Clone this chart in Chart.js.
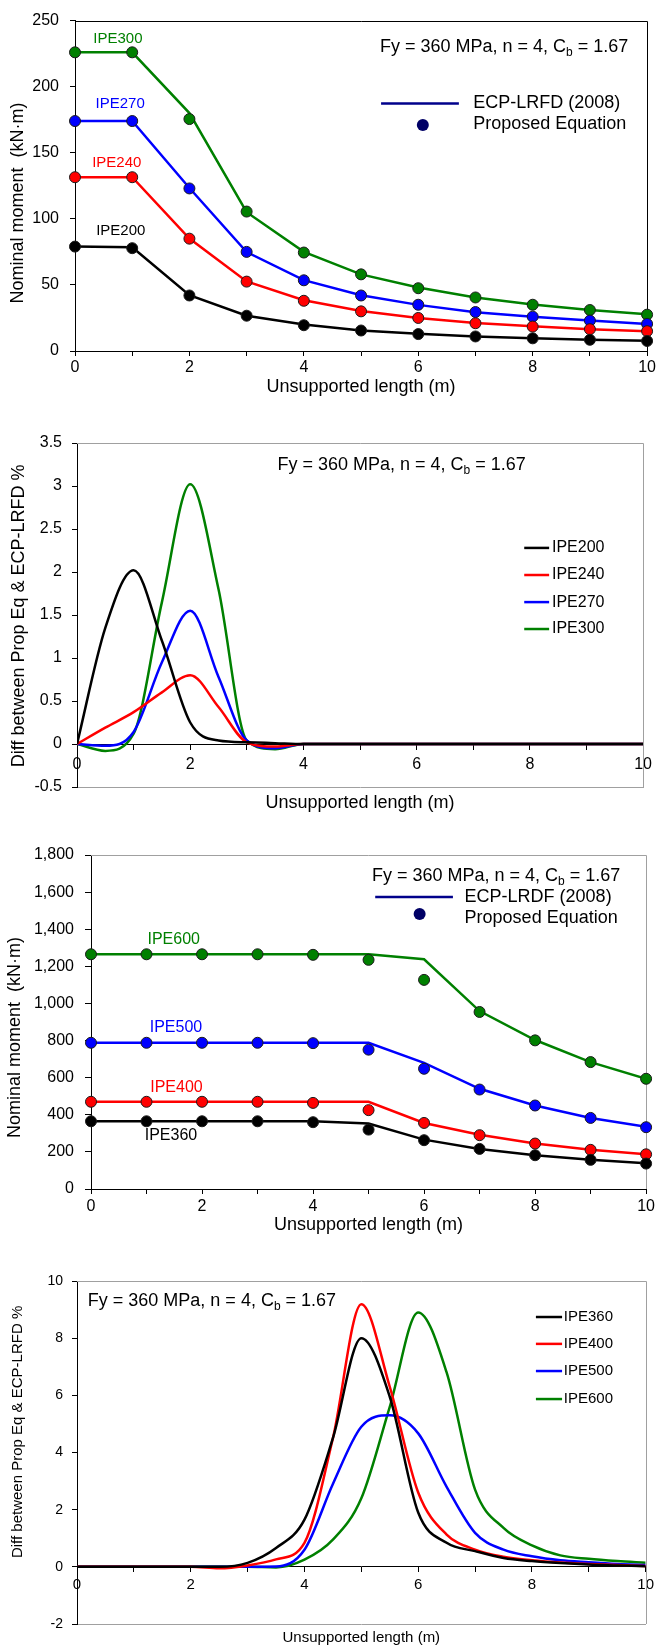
<!DOCTYPE html>
<html>
<head>
<meta charset="utf-8">
<title>Nominal moment vs unsupported length</title>
<script src="https://cdn.jsdelivr.net/npm/chart.js@4.4.1/dist/chart.umd.min.js"></script>
<style>
  body { margin: 0; background: #fff; width: 658px; height: 1647px; position: relative; overflow: hidden; }
  canvas { position: absolute; left: 0; }
</style>
</head>
<body>
<canvas id="moment-small" width="658" height="400" style="top:0"></canvas>
<canvas id="diff-small" width="658" height="420" style="top:400px"></canvas>
<canvas id="moment-large" width="658" height="420" style="top:820px"></canvas>
<canvas id="diff-large" width="658" height="407" style="top:1240px"></canvas>
<script>
// ---- data ----
const lengths = [0, 1, 2, 3, 4, 5, 6, 7, 8, 9, 10]

// IPE200..IPE300: ECP-LRFD (2008) line and proposed equation dots (kN.m)
const ipe200Line = [79, 78.5, 42.2, 26.7, 20, 15.5, 13, 11, 9.7, 8.5, 7.7]
const ipe200Dots = [79, 77.8, 42, 26.7, 19.5, 15.5, 12.8, 11, 9.6, 8.5, 7.6]
const ipe240Line = [131.5, 131.5, 85.1, 52.6, 38.4, 30.2, 24.9, 21.2, 18.7, 16.5, 15]
const ipe240Dots = [131.5, 131.5, 85, 52.5, 38, 30, 25, 21, 18.5, 16.5, 15]
const ipe270Line = [174, 174, 123.3, 74.9, 53.6, 42.2, 34.9, 29.4, 25.9, 23, 20.5]
const ipe270Dots = [174, 174, 123, 75, 53.5, 42, 35, 29.5, 26, 23, 20.5]
const ipe300Line = [226, 226, 180, 105, 75, 58, 48, 40.5, 35.2, 31, 27.8]
const ipe300Dots = [226, 226, 175.5, 105.5, 74.5, 58, 47.5, 40.5, 35, 31, 27.5]

// difference between proposed eq and ECP-LRFD (%), small sections
const diffLengthsSmall = [0, 0.5, 1, 1.5, 2, 2.5, 3, 3.5, 4, 5, 6, 7, 8, 9, 10]
const diff200 = [0, 1.35, 2.02, 1.2, 0.25, 0.04, 0.02, 0.01, 0, 0, 0, 0, 0, 0, 0]
const diff240 = [0, 0.19, 0.37, 0.6, 0.8, 0.43, 0.02, -0.03, 0, 0, 0, 0, 0, 0, 0]
const diff270 = [0, -0.02, 0.14, 0.95, 1.55, 0.78, 0.04, -0.05, 0, 0, 0, 0, 0, 0, 0]
const diff300 = [0, -0.08, 0.12, 1.65, 3.02, 1.8, 0.04, -0.06, 0, 0, 0, 0, 0, 0, 0]

// IPE360..IPE600
const ipe360Line = [365, 365, 365, 365, 365, 353, 266, 216, 182, 157, 139]
const ipe360Dots = [365, 365, 365, 365, 360, 320, 263, 216, 182, 157, 137]
const ipe400Line = [470, 470, 470, 470, 470, 470, 356, 292, 245, 212, 187]
const ipe400Dots = [470, 470, 470, 470, 464, 425, 356, 290, 245, 211, 187]
const ipe500Line = [788, 788, 788, 788, 788, 788, 680, 540, 450, 383, 335]
const ipe500Dots = [788, 788, 788, 788, 786, 751, 648, 536, 450, 383, 333]
const ipe600Line = [1265, 1265, 1265, 1265, 1265, 1265, 1238, 959, 803, 684, 594]
const ipe600Dots = [1265, 1265, 1265, 1265, 1262, 1235, 1127, 954, 801, 684, 594]

const diffLengthsLarge = [0, 1, 2, 2.5, 3, 3.5, 4, 4.5, 5, 5.5, 6, 6.5, 7, 7.5, 8, 8.5, 9, 9.5, 10]
const diff360 = [0, 0, 0, 0, 0.14, 0.66, 1.65, 4.5, 8.0, 5.95, 1.9, 0.84, 0.55, 0.31, 0.2, 0.13, 0.08, 0.05, 0.02]
const diff400 = [0, 0, 0, -0.05, 0.05, 0.26, 0.84, 4.5, 9.19, 6.3, 2.6, 1.13, 0.6, 0.35, 0.23, 0.15, 0.1, 0.06, 0.03]
const diff500 = [0, 0, 0, 0, 0, 0.01, 0.6, 2.9, 4.9, 5.3, 4.67, 2.8, 1.19, 0.6, 0.37, 0.23, 0.16, 0.1, 0.06]
const diff600 = [0, 0, 0, 0, 0, -0.02, 0.25, 0.95, 2.4, 5.6, 8.9, 6.8, 2.7, 1.36, 0.75, 0.4, 0.28, 0.2, 0.14]

const BLACK = '#000000'
const RED = '#ff0000'
const BLUE = '#0000ff'
const GREEN = '#008000'
const NAVY = '#00008b'
const FONT = "'Liberation Sans', Arial, Helvetica, sans-serif"

Chart.defaults.font.family = FONT
Chart.defaults.color = '#000'
Chart.defaults.animation = false

function pts(xs, ys) {
  return xs.map((x, i) => ({ x, y: ys[i] }))
}

// straight ECP-LRFD segments
function lineSet(label, xs, ys, color) {
  return { label, data: pts(xs, ys), borderColor: color, borderWidth: 2.5, pointRadius: 0, tension: 0, order: 1 }
}

// smoothed difference curves
function curveSet(label, xs, ys, color) {
  return {
    label, data: pts(xs, ys), borderColor: color, borderWidth: 2.5, pointRadius: 0,
    cubicInterpolationMode: 'monotone', order: 1
  }
}

function dotSet(label, xs, ys, color) {
  return {
    label, data: pts(xs, ys), showLine: false, pointRadius: 5.5,
    pointBackgroundColor: color, pointBorderColor: '#1a1a1a', pointBorderWidth: 1,
    clip: false, order: 0
  }
}

// top / right border of the plot box
const framePlugin = {
  id: 'frame',
  beforeDatasetsDraw(chart, args, opts) {
    const { ctx, chartArea: a } = chart
    ctx.save()
    ctx.strokeStyle = opts.color || '#000'
    ctx.lineWidth = 1
    ctx.beginPath()
    ctx.moveTo(a.left, Math.round(a.top) + 0.5)
    ctx.lineTo(Math.round(a.right) + 0.5, Math.round(a.top) + 0.5)
    ctx.lineTo(Math.round(a.right) + 0.5, a.bottom)
    ctx.stroke()
    ctx.restore()
  }
}

function drawFy(ctx, x, y, size) {
  const head = 'Fy = 360 MPa, n = 4, C'
  ctx.textAlign = 'left'
  ctx.textBaseline = 'middle'
  ctx.font = size + 'px ' + FONT
  ctx.fillText(head, x, y)
  let w = ctx.measureText(head).width
  ctx.font = Math.round(size * 0.65) + 'px ' + FONT
  ctx.fillText('b', x + w, y + size * 0.3)
  w += ctx.measureText('b').width
  ctx.font = size + 'px ' + FONT
  ctx.fillText(' = 1.67', x + w, y)
}

// labels, key samples, side titles – anchored on the data scales
const notesPlugin = {
  id: 'notes',
  afterDatasetsDraw(chart, args, opts) {
    const { ctx, scales } = chart
    const sx = scales.x
    const sy = scales.y
    ctx.save()
    for (const n of opts.items || []) {
      const px = n.px !== undefined ? n.px : sx.getPixelForValue(n.x)
      const py = sy.getPixelForValue(n.y)
      ctx.fillStyle = n.color || '#000'
      ctx.strokeStyle = n.color || '#000'
      if (n.kind === 'fy') {
        drawFy(ctx, px, py, n.size)
      } else if (n.kind === 'key') {
        ctx.lineWidth = n.width || 2.5
        ctx.beginPath()
        ctx.moveTo(px, py)
        ctx.lineTo(sx.getPixelForValue(n.x2), py)
        ctx.stroke()
      } else if (n.kind === 'dot') {
        ctx.beginPath()
        ctx.arc(px, py, n.r, 0, Math.PI * 2)
        ctx.fill()
      } else if (n.kind === 'vtext') {
        ctx.translate(px, py)
        ctx.rotate(-Math.PI / 2)
        ctx.font = n.size + 'px ' + FONT
        ctx.textAlign = 'center'
        ctx.textBaseline = 'middle'
        ctx.fillText(n.text, 0, 0)
        ctx.setTransform(1, 0, 0, 1, 0, 0)
      } else {
        ctx.font = n.size + 'px ' + FONT
        ctx.textAlign = n.align || 'left'
        ctx.textBaseline = 'middle'
        ctx.fillText(n.text, px, py)
      }
    }
    ctx.restore()
  }
}

Chart.register(framePlugin, notesPlugin)

const evenOnly = v => (v % 2 === 0 ? v : '')
const plain = v => String(v)

// ---------------- chart 1 ----------------
new Chart(document.getElementById('moment-small'), {
  type: 'line',
  data: {
    datasets: [
      lineSet('IPE200', lengths, ipe200Line, BLACK),
      lineSet('IPE240', lengths, ipe240Line, RED),
      lineSet('IPE270', lengths, ipe270Line, BLUE),
      lineSet('IPE300', lengths, ipe300Line, GREEN),
      dotSet('IPE200 prop', lengths, ipe200Dots, BLACK),
      dotSet('IPE240 prop', lengths, ipe240Dots, RED),
      dotSet('IPE270 prop', lengths, ipe270Dots, BLUE),
      dotSet('IPE300 prop', lengths, ipe300Dots, GREEN)
    ]
  },
  options: {
    responsive: false,
    layout: { padding: { top: 16, right: 10, left: 0, bottom: 0 } },
    plugins: {
      legend: { display: false },
      tooltip: { enabled: false },
      frame: { color: '#000' },
      notes: {
        items: [
          { text: 'IPE300', x: 0.75, y: 236, color: GREEN, size: 15, align: 'center' },
          { text: 'IPE270', x: 0.79, y: 187, color: BLUE, size: 15, align: 'center' },
          { text: 'IPE240', x: 0.73, y: 142, color: RED, size: 15, align: 'center' },
          { text: 'IPE200', x: 0.8, y: 91, color: BLACK, size: 15, align: 'center' },
          { kind: 'fy', x: 5.33, y: 230, size: 18 },
          { kind: 'key', x: 5.35, x2: 6.71, y: 187.3, color: NAVY },
          { text: 'ECP-LRFD (2008)', x: 6.96, y: 187.3, size: 18 },
          { kind: 'dot', x: 6.08, y: 171, r: 6, color: '#000066' },
          { text: 'Proposed Equation', x: 6.96, y: 171.6, size: 18 },
          { kind: 'vtext', text: 'Nominal moment  (kN\u00b7m)', px: 18, y: 112, size: 18 }
        ]
      }
    },
    scales: {
      x: {
        type: 'linear', min: 0, max: 10,
        ticks: { stepSize: 1, autoSkip: false, maxRotation: 0, padding: 2, font: { size: 16 }, callback: evenOnly },
        grid: { drawOnChartArea: false, tickLength: 5, color: '#000' },
        border: { color: '#000' },
        title: { display: true, text: 'Unsupported length (m)', font: { size: 18 }, padding: { top: 0, bottom: 2 } },
        afterFit: s => { s.height = 49 }
      },
      y: {
        min: 0, max: 250,
        ticks: { stepSize: 50, padding: 11, font: { size: 16 } },
        grid: { drawOnChartArea: false, tickLength: 5, color: '#000' },
        border: { color: '#000' },
        afterFit: s => { s.width = 75 }
      }
    }
  }
})

// ---------------- chart 2 ----------------
new Chart(document.getElementById('diff-small'), {
  type: 'line',
  data: {
    datasets: [
      curveSet('IPE200', diffLengthsSmall, diff200, BLACK),
      curveSet('IPE240', diffLengthsSmall, diff240, RED),
      curveSet('IPE270', diffLengthsSmall, diff270, BLUE),
      curveSet('IPE300', diffLengthsSmall, diff300, GREEN)
    ]
  },
  options: {
    responsive: false,
    layout: { padding: { top: 43, right: 10, left: 0, bottom: 0 } },
    plugins: {
      legend: { display: false },
      tooltip: { enabled: false },
      frame: { color: '#a0a0a0' },
      notes: {
        items: [
          { kind: 'fy', x: 3.54, y: 3.244, size: 18 },
          { kind: 'key', x: 7.9, x2: 8.34, y: 2.28, color: BLACK },
          { text: 'IPE200', x: 8.39, y: 2.28, size: 16 },
          { kind: 'key', x: 7.9, x2: 8.34, y: 1.965, color: RED },
          { text: 'IPE240', x: 8.39, y: 1.965, size: 16 },
          { kind: 'key', x: 7.9, x2: 8.34, y: 1.65, color: BLUE },
          { text: 'IPE270', x: 8.39, y: 1.65, size: 16 },
          { kind: 'key', x: 7.9, x2: 8.34, y: 1.337, color: GREEN },
          { text: 'IPE300', x: 8.39, y: 1.337, size: 16 },
          { kind: 'vtext', text: 'Diff between Prop Eq & ECP-LRFD %', px: 19, y: 1.49, size: 18 }
        ]
      }
    },
    scales: {
      x: {
        type: 'linear', min: 0, max: 10, position: { y: 0 },
        ticks: { stepSize: 1, autoSkip: false, maxRotation: 0, padding: 6, font: { size: 16 }, callback: evenOnly },
        grid: { drawOnChartArea: false, tickLength: 5, color: '#000' },
        border: { color: '#000' }
      },
      x2: {
        type: 'linear', position: 'bottom', min: 0, max: 10,
        ticks: { display: false },
        grid: { display: true, drawOnChartArea: false, drawTicks: false },
        border: { color: '#a0a0a0' },
        title: { display: true, text: 'Unsupported length (m)', font: { size: 18 }, padding: { top: 0, bottom: 6 } },
        afterFit: s => { s.height = 33 }
      },
      y: {
        min: -0.5, max: 3.5,
        ticks: { stepSize: 0.5, padding: 10, font: { size: 16 }, callback: plain },
        grid: { drawOnChartArea: false, tickLength: 5, color: '#000' },
        border: { color: '#000' },
        afterFit: s => { s.width = 77 }
      }
    }
  }
})

// ---------------- chart 3 ----------------
new Chart(document.getElementById('moment-large'), {
  type: 'line',
  data: {
    datasets: [
      lineSet('IPE360', lengths, ipe360Line, BLACK),
      lineSet('IPE400', lengths, ipe400Line, RED),
      lineSet('IPE500', lengths, ipe500Line, BLUE),
      lineSet('IPE600', lengths, ipe600Line, GREEN),
      dotSet('IPE360 prop', lengths, ipe360Dots, BLACK),
      dotSet('IPE400 prop', lengths, ipe400Dots, RED),
      dotSet('IPE500 prop', lengths, ipe500Dots, BLUE),
      dotSet('IPE600 prop', lengths, ipe600Dots, GREEN)
    ]
  },
  options: {
    responsive: false,
    layout: { padding: { top: 35, right: 10, left: 0, bottom: 0 } },
    plugins: {
      legend: { display: false },
      tooltip: { enabled: false },
      frame: { color: '#a0a0a0' },
      notes: {
        items: [
          { text: 'IPE600', x: 1.49, y: 1342, color: GREEN, size: 16, align: 'center' },
          { text: 'IPE500', x: 1.53, y: 868, color: BLUE, size: 16, align: 'center' },
          { text: 'IPE400', x: 1.54, y: 544, color: RED, size: 16, align: 'center' },
          { text: 'IPE360', x: 1.44, y: 286, color: BLACK, size: 16, align: 'center' },
          { kind: 'fy', x: 5.06, y: 1687, size: 18 },
          { kind: 'key', x: 5.12, x2: 6.52, y: 1574, color: NAVY },
          { text: 'ECP-LRDF (2008)', x: 6.73, y: 1574, size: 18 },
          { kind: 'dot', x: 5.92, y: 1482, r: 6, color: '#000066' },
          { text: 'Proposed Equation', x: 6.73, y: 1460, size: 18 },
          { kind: 'vtext', text: 'Nominal moment  (kN\u00b7m)', px: 15, y: 816, size: 18 }
        ]
      }
    },
    scales: {
      x: {
        type: 'linear', min: 0, max: 10,
        ticks: { stepSize: 1, autoSkip: false, maxRotation: 0, padding: 3, font: { size: 16 }, callback: evenOnly },
        grid: { drawOnChartArea: false, tickLength: 5, color: '#000' },
        border: { color: '#000' },
        title: { display: true, text: 'Unsupported length (m)', font: { size: 18 }, padding: { top: 0, bottom: 4 } },
        afterFit: s => { s.height = 51 }
      },
      y: {
        min: 0, max: 1800,
        ticks: { stepSize: 200, padding: 11, font: { size: 16 }, callback: v => v.toLocaleString('en-US') },
        grid: { drawOnChartArea: false, tickLength: 6, color: '#000' },
        border: { color: '#000' },
        afterFit: s => { s.width = 91 }
      }
    }
  }
})

// ---------------- chart 4 ----------------
new Chart(document.getElementById('diff-large'), {
  type: 'line',
  data: {
    datasets: [
      curveSet('IPE360', diffLengthsLarge, diff360, BLACK),
      curveSet('IPE400', diffLengthsLarge, diff400, RED),
      curveSet('IPE500', diffLengthsLarge, diff500, BLUE),
      curveSet('IPE600', diffLengthsLarge, diff600, GREEN)
    ]
  },
  options: {
    responsive: false,
    layout: { padding: { top: 41, right: 10, left: 0, bottom: 0 } },
    plugins: {
      legend: { display: false },
      tooltip: { enabled: false },
      frame: { color: '#a0a0a0' },
      notes: {
        items: [
          { kind: 'fy', x: 0.19, y: 9.3, size: 18 },
          { kind: 'key', x: 8.07, x2: 8.53, y: 8.74, color: BLACK },
          { text: 'IPE360', x: 8.56, y: 8.74, size: 15 },
          { kind: 'key', x: 8.07, x2: 8.53, y: 7.8, color: RED },
          { text: 'IPE400', x: 8.56, y: 7.8, size: 15 },
          { kind: 'key', x: 8.07, x2: 8.53, y: 6.85, color: BLUE },
          { text: 'IPE500', x: 8.56, y: 6.85, size: 15 },
          { kind: 'key', x: 8.07, x2: 8.53, y: 5.87, color: GREEN },
          { text: 'IPE600', x: 8.56, y: 5.87, size: 15 },
          { kind: 'vtext', text: 'Diff between Prop Eq & ECP-LRFD %', px: 18, y: 4.72, size: 15 }
        ]
      }
    },
    scales: {
      x: {
        type: 'linear', min: 0, max: 10, position: { y: 0 },
        ticks: { stepSize: 1, autoSkip: false, maxRotation: 0, padding: 4, font: { size: 15 }, callback: evenOnly },
        grid: { drawOnChartArea: false, tickLength: 5, color: '#000' },
        border: { color: '#000' }
      },
      x2: {
        type: 'linear', position: 'bottom', min: 0, max: 10,
        ticks: { display: false },
        grid: { display: true, drawOnChartArea: false, drawTicks: false },
        border: { color: '#a0a0a0' },
        title: { display: true, text: 'Unsupported length (m)', font: { size: 15 }, padding: { top: 0, bottom: 0 } },
        afterFit: s => { s.height = 23 }
      },
      y: {
        min: -2, max: 10,
        ticks: { stepSize: 2, padding: 9, font: { size: 14 } },
        grid: { drawOnChartArea: false, tickLength: 5, color: '#000' },
        border: { color: '#000' },
        afterFit: s => { s.width = 77 }
      }
    }
  }
})
</script>
</body>
</html>
